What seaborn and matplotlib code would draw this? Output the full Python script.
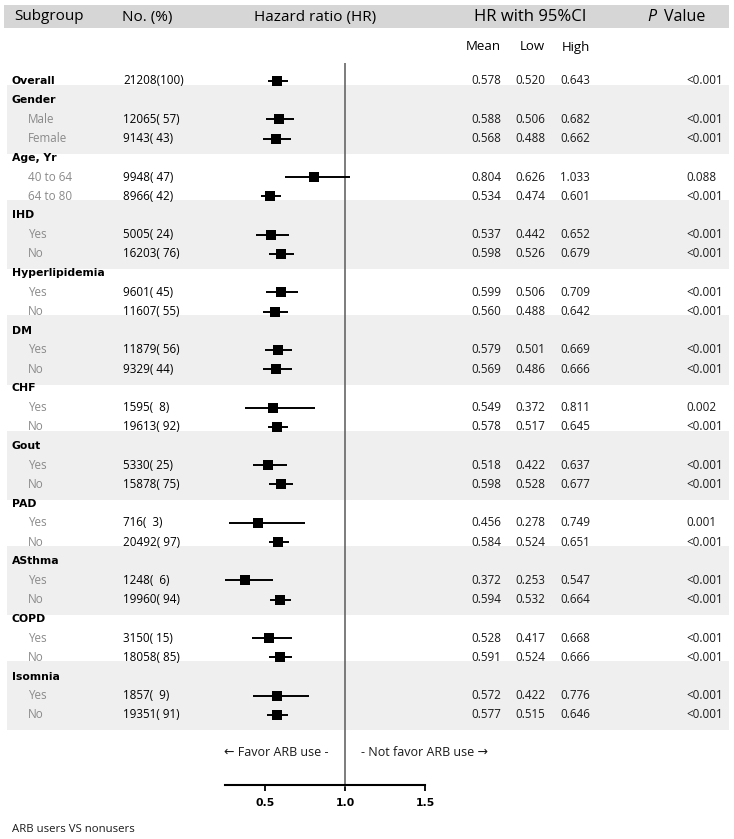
import matplotlib
matplotlib.use("Agg")
import matplotlib.pyplot as plt
import matplotlib.transforms as mtransforms
import numpy as np
import pandas as pd
import seaborn as sns

# ---------------- data ----------------
subgroups = ["Overall", "Gender", "Male", "Female", "Age, Yr", "40 to 64", "64 to 80",
             "IHD", "Yes", "No", "Hyperlipidemia", "Yes", "No", "DM", "Yes", "No",
             "CHF", "Yes", "No", "Gout", "Yes", "No", "PAD", "Yes", "No",
             "ASthma", "Yes", "No", "COPD", "Yes", "No", "Isomnia", "Yes", "No"]
is_header = [True, True, False, False, True, False, False,
             True, False, False, True, False, False, True, False, False,
             True, False, False, True, False, False, True, False, False,
             True, False, False, True, False, False, True, False, False]
counts = [21208, None, 12065, 9143, None, 9948, 8966,
          None, 5005, 16203, None, 9601, 11607, None, 11879, 9329,
          None, 1595, 19613, None, 5330, 15878, None, 716, 20492,
          None, 1248, 19960, None, 3150, 18058, None, 1857, 19351]
pcts = [100, None, 57, 43, None, 47, 42,
        None, 24, 76, None, 45, 55, None, 56, 44,
        None, 8, 92, None, 25, 75, None, 3, 97,
        None, 6, 94, None, 15, 85, None, 9, 91]
hr_mean = [0.578, None, 0.588, 0.568, None, 0.804, 0.534,
           None, 0.537, 0.598, None, 0.599, 0.560, None, 0.579, 0.569,
           None, 0.549, 0.578, None, 0.518, 0.598, None, 0.456, 0.584,
           None, 0.372, 0.594, None, 0.528, 0.591, None, 0.572, 0.577]
hr_low = [0.520, None, 0.506, 0.488, None, 0.626, 0.474,
          None, 0.442, 0.526, None, 0.506, 0.488, None, 0.501, 0.486,
          None, 0.372, 0.517, None, 0.422, 0.528, None, 0.278, 0.524,
          None, 0.253, 0.532, None, 0.417, 0.524, None, 0.422, 0.515]
hr_high = [0.643, None, 0.682, 0.662, None, 1.033, 0.601,
           None, 0.652, 0.679, None, 0.709, 0.642, None, 0.669, 0.666,
           None, 0.811, 0.645, None, 0.637, 0.677, None, 0.749, 0.651,
           None, 0.547, 0.664, None, 0.668, 0.666, None, 0.776, 0.646]
p_values = ["<0.001", "", "<0.001", "<0.001", "", "0.088", "<0.001",
            "", "<0.001", "<0.001", "", "<0.001", "<0.001", "", "<0.001", "<0.001",
            "", "0.002", "<0.001", "", "<0.001", "<0.001", "", "0.001", "<0.001",
            "", "<0.001", "<0.001", "", "<0.001", "<0.001", "", "<0.001", "<0.001"]
shaded_groups = ["Gender", "IHD", "DM", "Gout", "ASthma", "Isomnia"]
x_ticks = [0.5, 1.0, 1.5]
x_tick_labels = ["0.5", "1.0", "1.5"]

# ---------------- layout helpers ----------------
W, H = 734, 839
X_REF, PX_PER_UNIT = 345, 160.0
Y0, STEP = 81.0, 19.21


def hr_of_px(px):
    return 1 + (px - X_REF) / PX_PER_UNIT


def row_of_py(py):
    return (py - Y0) / STEP


df = pd.DataFrame({"label": subgroups, "header": is_header, "n": counts, "pct": pcts,
                   "mean": hr_mean, "low": hr_low, "high": hr_high, "p": p_values})
df["row"] = np.arange(len(df))

sns.set_theme(style="white")
plt.rcParams["font.family"] = ["Open Sans", "DejaVu Sans"]

fig = plt.figure(figsize=(W / 100, H / 100), dpi=100)
ax = fig.add_axes([0, 0, 1, 1])

# shaded bands
ax.axhspan(row_of_py(5), row_of_py(28), xmin=4 / W, xmax=729 / W, color="#d6d6d6", zorder=0, lw=0)
for g in shaded_groups:
    r0 = df.index[(df.label == g) & df.header][0]
    ax.axhspan(r0 - 0.8, r0 + 2.8, xmin=7 / W, xmax=729 / W, color="#efefef", zorder=0, lw=0)

# reference line
ax.vlines(1.0, row_of_py(63), row_of_py(787), color="#666666", lw=1.2, zorder=1)

pdata = df.dropna(subset=["mean"])
ax.hlines(pdata["row"], pdata["low"], pdata["high"], color="black", lw=1.4, zorder=3)
sns.scatterplot(data=pdata, x="mean", y="row", marker="s", s=62, color="black",
                edgecolor="black", linewidth=0, ax=ax, legend=False, zorder=4)

ax.set_xlim(hr_of_px(0), hr_of_px(W))
ax.set_ylim(row_of_py(H), row_of_py(0))
ax.set_xlabel("")
ax.set_ylabel("")
ax.set_yticks([])
for s in ["left", "right", "top"]:
    ax.spines[s].set_visible(False)
ax.spines["bottom"].set_position(("data", row_of_py(785)))
ax.spines["bottom"].set_bounds(0.25, 1.5)
ax.spines["bottom"].set_linewidth(1.5)
ax.spines["bottom"].set_color("black")
ax.set_xticks(x_ticks)
ax.set_xticklabels(x_tick_labels, fontweight="bold", fontsize=7.8, family="DejaVu Sans")
ax.tick_params(axis="x", direction="out", length=4, width=1.3, pad=5, bottom=True, colors="black")
ax.set_facecolor("none")

trans = mtransforms.blended_transform_factory(fig.transFigure, ax.transData)


def T(px, row, s, **kw):
    ax.text(px / W, row, s, transform=trans, va="center", **kw)


# column headers
hy = row_of_py(17)
T(14, hy, "Subgroup", fontsize=11, color="black")
T(122, hy, "No. (%)", fontsize=11, color="black")
T(315, hy, "Hazard ratio (HR)", fontsize=11, ha="center", color="black")
T(530, hy, "HR with 95%CI", fontsize=12, ha="center", color="black")
T(647, hy, "P", fontsize=11.5, style="italic", color="black")
T(664, hy, "Value", fontsize=11.5, color="black")
sy = row_of_py(47)
T(501, sy, "Mean", fontsize=9.5, ha="right", color="black")
T(545, sy, "Low", fontsize=9.5, ha="right", color="black")
T(590, sy, "High", fontsize=9.5, ha="right", color="black")

for _, r in df.iterrows():
    if r.header:
        T(12, r.row, r.label, fontsize=7.8, fontweight="bold", family="DejaVu Sans", color="black")
    else:
        T(28, r.row, r.label, fontsize=8.4, color="#8a8a8a")
    if pd.notna(r.n):
        T(123, r.row, f"{int(r.n)}({int(r.pct):3d})", fontsize=8.4, color="black")
    if pd.notna(r["mean"]):
        T(501, r.row, f"{r['mean']:.3f}", fontsize=8.4, ha="right", color="#1a1a1a")
        T(545, r.row, f"{r['low']:.3f}", fontsize=8.4, ha="right", color="#1a1a1a")
        T(590, r.row, f"{r['high']:.3f}", fontsize=8.4, ha="right", color="#1a1a1a")
        T(686, r.row, r.p, fontsize=8.4, color="#1a1a1a")

fy = row_of_py(752)
T(329, fy, "\u2190 Favor ARB use -", fontsize=9, ha="right", color="#1a1a1a")
T(361, fy, "- Not favor ARB use \u2192", fontsize=9, ha="left", color="#1a1a1a")
T(12, row_of_py(829), "ARB users VS nonusers", fontsize=8.2, color="#1a1a1a")

fig.savefig("out.png", dpi=100)
